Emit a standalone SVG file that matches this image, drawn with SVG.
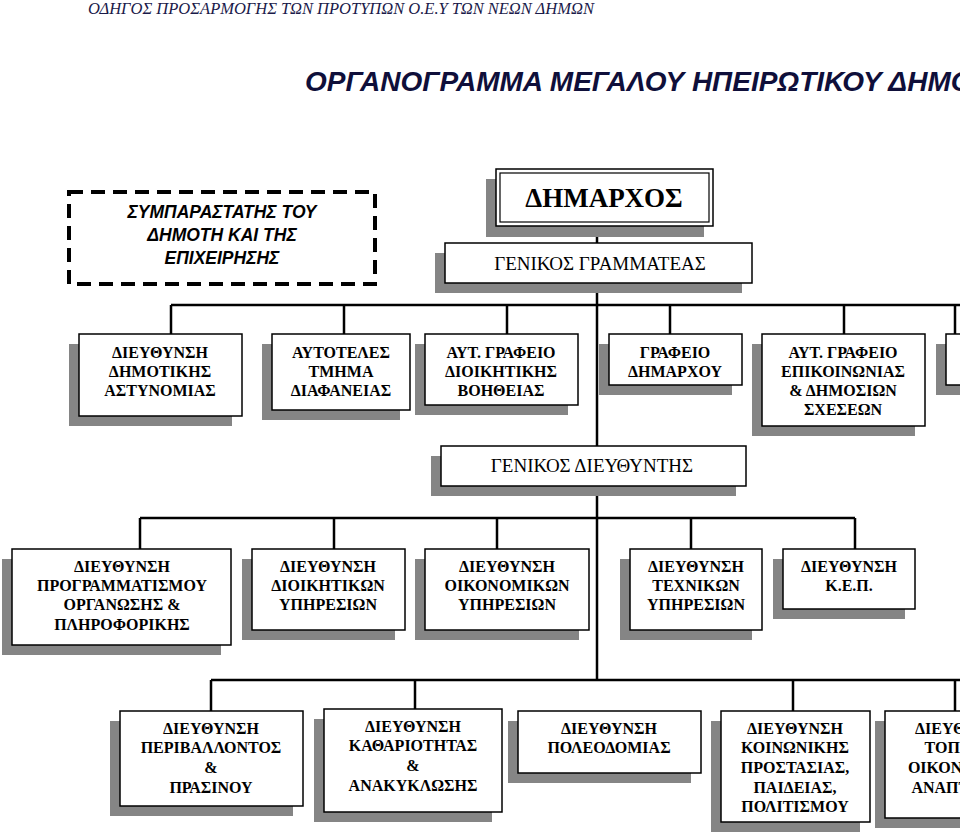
<svg xmlns="http://www.w3.org/2000/svg" width="960" height="836" viewBox="0 0 960 836">
<style>
.b{fill:#fff;stroke:#000;stroke-width:1.5}
.s{fill:#858585}
.t{font-family:"Liberation Serif","Times New Roman",serif;font-weight:bold;font-size:16px;text-anchor:middle}
.g{font-family:"Liberation Serif","Times New Roman",serif;font-size:19px;text-anchor:middle}
.c{stroke:#000;stroke-width:2.5;fill:none}
</style>
<rect width="960" height="836" fill="#fff"/>
<text x="88" y="14" font-family="Liberation Serif,serif" font-style="italic" font-size="16.5" fill="#1a1a4a">ΟΔΗΓΟΣ  ΠΡΟΣΑΡΜΟΓΗΣ ΤΩΝ ΠΡΟΤΥΠΩΝ Ο.Ε.Υ ΤΩΝ ΝΕΩΝ ΔΗΜΩΝ</text>
<text x="305" y="91" font-family="Liberation Sans,sans-serif" font-style="italic" font-weight="bold" font-size="28" fill="#0f0f3a">ΟΡΓΑΝΟΓΡΑΜΜΑ ΜΕΓΑΛΟΥ ΗΠΕΙΡΩΤΙΚΟΥ ΔΗΜΟΥ</text>
<g id="connectors" class="c">
<path d="M597 226V680"/>
<path d="M171 305H960M171 305V334M344 305V334M507 305V334M670 305V334M844 305V334M955 305V334"/>
<path d="M140 518H855M140 518V549M334 518V549M497 518V549M691 518V549M855 518V549"/>
<path d="M211 680H960M211 680V711M415 680V709M793 680V711M955 680V711"/>
</g>
<g id="symparastatis">
<rect x="69" y="192" width="306" height="92" fill="none" stroke="#000" stroke-width="4" stroke-dasharray="14,8"/>
<g font-family="Liberation Sans,sans-serif" font-style="italic" font-weight="bold" font-size="17.5" text-anchor="middle"><text x="222" y="218">ΣΥΜΠΑΡΑΣΤΑΤΗΣ ΤΟΥ</text><text x="222" y="241">ΔΗΜΟΤΗ ΚΑΙ ΤΗΣ</text><text x="222" y="264">ΕΠΙΧΕΙΡΗΣΗΣ</text></g>
</g>
<g id="dimarxos">
<rect class="s" x="486" y="179" width="218" height="58"/>
<rect class="b" x="496" y="169" width="217" height="57"/>
<rect x="500" y="173" width="209" height="49" fill="none" stroke="#000" stroke-width="1.2"/>
<text x="604" y="207" font-family="Liberation Serif,serif" font-weight="bold" font-size="27" text-anchor="middle">ΔΗΜΑΡΧΟΣ</text>
</g>
<g id="gen-gram"><rect class="s" x="435" y="253" width="307" height="40"/><rect class="b" x="445" y="243" width="307" height="40"/><text class="g" x="600" y="270">ΓΕΝΙΚΟΣ ΓΡΑΜΜΑΤΕΑΣ</text></g>
<g id="astynomia"><rect class="s" x="69" y="344" width="163" height="82"/><rect class="b" x="79" y="334" width="163" height="82"/><text class="t" x="160" y="358">ΔΙΕΥΘΥΝΣΗ</text><text class="t" x="160" y="377">ΔΗΜΟΤΙΚΗΣ</text><text class="t" x="160" y="396">ΑΣΤΥΝΟΜΙΑΣ</text></g>
<g id="diafaneia"><rect class="s" x="262" y="344" width="138" height="76"/><rect class="b" x="272" y="334" width="138" height="76"/><text class="t" x="341" y="358">ΑΥΤΟΤΕΛΕΣ</text><text class="t" x="341" y="377">ΤΜΗΜΑ</text><text class="t" x="341" y="396">ΔΙΑΦΑΝΕΙΑΣ</text></g>
<g id="dioik-vo"><rect class="s" x="415" y="344" width="153" height="71"/><rect class="b" x="425" y="334" width="153" height="71"/><text class="t" x="501" y="358">ΑΥΤ. ΓΡΑΦΕΙΟ</text><text class="t" x="501" y="377">ΔΙΟΙΚΗΤΙΚΗΣ</text><text class="t" x="501" y="396">ΒΟΗΘΕΙΑΣ</text></g>
<g id="graf-dim"><rect class="s" x="599" y="344" width="133" height="51"/><rect class="b" x="609" y="334" width="133" height="51"/><text class="t" x="675" y="358">ΓΡΑΦΕΙΟ</text><text class="t" x="675" y="377">ΔΗΜΑΡΧΟΥ</text></g>
<g id="epikoin"><rect class="s" x="752" y="344" width="163" height="92"/><rect class="b" x="762" y="334" width="163" height="92"/><text class="t" x="843" y="358">ΑΥΤ. ΓΡΑΦΕΙΟ</text><text class="t" x="843" y="377">ΕΠΙΚΟΙΝΩΝΙΑΣ</text><text class="t" x="843" y="396">&amp; ΔΗΜΟΣΙΩΝ</text><text class="t" x="843" y="415">ΣΧΕΣΕΩΝ</text></g>
<g id="partial1"><rect class="s" x="936" y="344" width="40" height="51"/><rect class="b" x="946" y="334" width="40" height="51"/></g>
<g id="gen-dieu"><rect class="s" x="431" y="456" width="305" height="40"/><rect class="b" x="441" y="446" width="305" height="40"/><text class="g" x="592" y="472">ΓΕΝΙΚΟΣ ΔΙΕΥΘΥΝΤΗΣ</text></g>
<g id="programm"><rect class="s" x="2" y="559" width="219" height="96"/><rect class="b" x="12" y="549" width="219" height="96"/><text class="t" x="122" y="572">ΔΙΕΥΘΥΝΣΗ</text><text class="t" x="122" y="591">ΠΡΟΓΡΑΜΜΑΤΙΣΜΟΥ</text><text class="t" x="122" y="610">ΟΡΓΑΝΩΣΗΣ &amp;</text><text class="t" x="122" y="630">ΠΛΗΡΟΦΟΡΙΚΗΣ</text></g>
<g id="dioikitikon"><rect class="s" x="242" y="559" width="153" height="81"/><rect class="b" x="252" y="549" width="153" height="81"/><text class="t" x="328" y="572">ΔΙΕΥΘΥΝΣΗ</text><text class="t" x="328" y="591">ΔΙΟΙΚΗΤΙΚΩΝ</text><text class="t" x="328" y="610">ΥΠΗΡΕΣΙΩΝ</text></g>
<g id="oikonomikon"><rect class="s" x="415" y="559" width="164" height="81"/><rect class="b" x="425" y="549" width="164" height="81"/><text class="t" x="507" y="572">ΔΙΕΥΘΥΝΣΗ</text><text class="t" x="507" y="591">ΟΙΚΟΝΟΜΙΚΩΝ</text><text class="t" x="507" y="610">ΥΠΗΡΕΣΙΩΝ</text></g>
<g id="texnikon"><rect class="s" x="620" y="559" width="132" height="81"/><rect class="b" x="630" y="549" width="132" height="81"/><text class="t" x="696" y="572">ΔΙΕΥΘΥΝΣΗ</text><text class="t" x="696" y="591">ΤΕΧΝΙΚΩΝ</text><text class="t" x="696" y="610">ΥΠΗΡΕΣΙΩΝ</text></g>
<g id="kep"><rect class="s" x="773" y="559" width="132" height="60"/><rect class="b" x="783" y="549" width="132" height="60"/><text class="t" x="849" y="572">ΔΙΕΥΘΥΝΣΗ</text><text class="t" x="849" y="591">Κ.Ε.Π.</text></g>
<g id="perivallon"><rect class="s" x="110" y="721" width="183" height="95"/><rect class="b" x="120" y="711" width="183" height="95"/><text class="t" x="211" y="734">ΔΙΕΥΘΥΝΣΗ</text><text class="t" x="211" y="753">ΠΕΡΙΒΑΛΛΟΝΤΟΣ</text><text class="t" x="211" y="773">&amp;</text><text class="t" x="211" y="793">ΠΡΑΣΙΝΟΥ</text></g>
<g id="kathariotita"><rect class="s" x="314" y="719" width="178" height="103"/><rect class="b" x="324" y="709" width="178" height="103"/><text class="t" x="413" y="732">ΔΙΕΥΘΥΝΣΗ</text><text class="t" x="413" y="751">ΚΑΘΑΡΙΟΤΗΤΑΣ</text><text class="t" x="413" y="771">&amp;</text><text class="t" x="413" y="791">ΑΝΑΚΥΚΛΩΣΗΣ</text></g>
<g id="poleodomia"><rect class="s" x="508" y="721" width="183" height="62"/><rect class="b" x="518" y="711" width="183" height="62"/><text class="t" x="609" y="734">ΔΙΕΥΘΥΝΣΗ</text><text class="t" x="609" y="753">ΠΟΛΕΟΔΟΜΙΑΣ</text></g>
<g id="koinoniki"><rect class="s" x="711" y="721" width="149" height="111"/><rect class="b" x="721" y="711" width="149" height="111"/><text class="t" x="795" y="734">ΔΙΕΥΘΥΝΣΗ</text><text class="t" x="795" y="753">ΚΟΙΝΩΝΙΚΗΣ</text><text class="t" x="795" y="773">ΠΡΟΣΤΑΣΙΑΣ,</text><text class="t" x="795" y="793">ΠΑΙΔΕΙΑΣ,</text><text class="t" x="795" y="812">ΠΟΛΙΤΙΣΜΟΥ</text></g>
<g id="topiki"><rect class="s" x="875" y="721" width="100" height="107"/><rect class="b" x="885" y="711" width="100" height="107"/><text class="t" x="963" y="734">ΔΙΕΥΘΥΝΣΗ</text><text class="t" x="963" y="753">ΤΟΠΙΚΗΣ</text><text class="t" x="963" y="773">ΟΙΚΟΝΟΜΙΑΣ</text><text class="t" x="963" y="793">ΑΝΑΠΤΥΞΗΣ</text></g>
</svg>
